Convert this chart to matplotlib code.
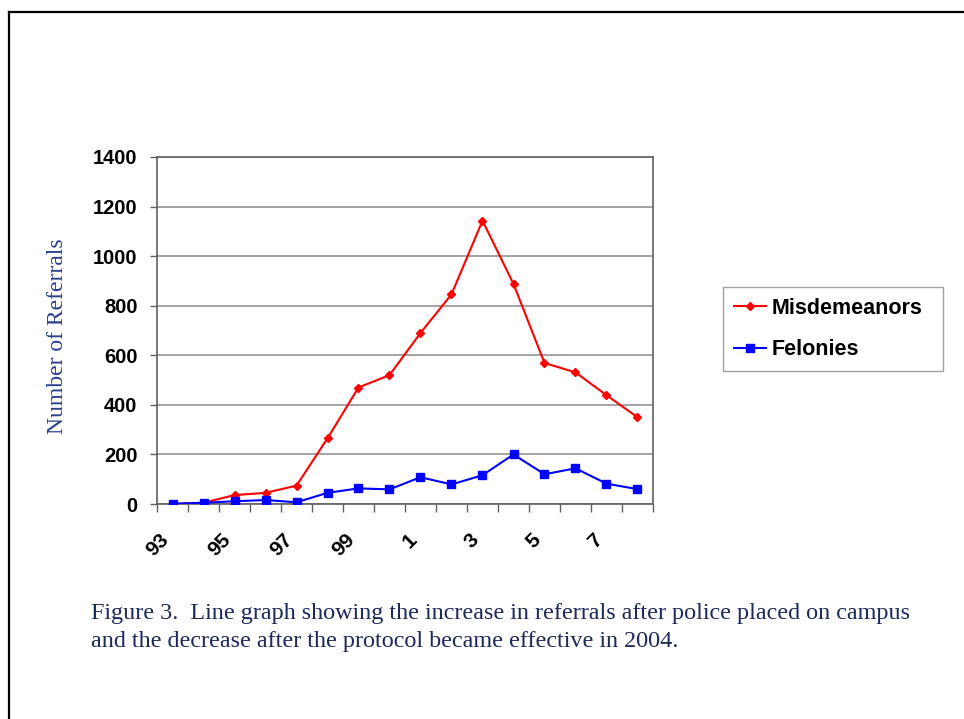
import matplotlib
matplotlib.use("Agg")
import matplotlib.pyplot as plt
import matplotlib.transforms as mtransforms
from matplotlib.lines import Line2D
import numpy as np

# referral counts per school year (93 .. 08)
years = ["93", "94", "95", "96", "97", "98", "99", "0",
         "1", "2", "3", "4", "5", "6", "7", "8"]
misdemeanors = [0, 5, 36, 45, 74, 265, 470, 520,
                690, 846, 1143, 888, 569, 531, 439, 350]
felonies = [1, 5, 11, 16, 7, 45, 63, 59,
            108, 79, 116, 200, 120, 144, 82, 60]
y_ticks = [0, 200, 400, 600, 800, 1000, 1200, 1400]

W, H = 964, 719
fig = plt.figure(figsize=(W / 100, H / 100), dpi=100)
fig.patch.set_facecolor("white")

# plot area in pixel terms
left, right, top, bottom = 157, 653, 157, 504
ax = fig.add_axes([left / W, 1 - bottom / H, (right - left) / W, (bottom - top) / H])

x = np.arange(len(years))
ax.plot(x, misdemeanors, color="#ff0000", lw=1.5, marker="D", ms=4,
        label="Misdemeanors", zorder=3)
ax.plot(x, felonies, color="#0000ff", lw=1.5, marker="s", ms=5.5,
        label="Felonies", zorder=3)

ax.set_xlim(-0.5, len(years) - 0.5)
ax.set_ylim(0, 1400)
ax.set_yticks(y_ticks)
ax.set_yticklabels([str(v) for v in y_ticks], fontsize=14.5, fontweight="bold",
                   family="Liberation Sans")
ax.yaxis.grid(True, color="#8a8a8a", lw=1.1)
ax.set_axisbelow(True)

# category boundaries carry the tick marks, every other category gets a label
ax.set_xticks(np.arange(len(years) + 1) - 0.5, minor=True)
ax.set_xticks(x[::2])
ax.set_xticklabels(years[::2], rotation=45, ha="right", va="top",
                   fontsize=15, fontweight="bold", family="Liberation Sans")
shift = mtransforms.ScaledTranslation(5 / 100, 0, fig.dpi_scale_trans)
for lbl in ax.get_xticklabels():
    lbl.set_transform(lbl.get_transform() + shift)
ax.tick_params(axis="x", which="major", length=0, pad=19)
ax.tick_params(axis="x", which="minor", length=6, color="#606060", width=1)
ax.tick_params(axis="y", length=5, color="#606060", width=1, pad=9)

for s in ax.spines.values():
    s.set_color("#606060")
    s.set_linewidth(1.2)

fig.text(58 / W, 1 - 336 / H, "Number of Referrals", rotation=90,
         ha="center", va="center", fontsize=17, family="Liberation Serif",
         color="#27408b")

leg = ax.legend(loc="upper left", bbox_to_anchor=(723 / W, 1 - 372 / H, 220 / W, 85 / H),
                bbox_transform=fig.transFigure, mode="expand", frameon=True,
                fancybox=False, edgecolor="#8a8a8a", handlelength=1.5,
                handletextpad=0.25, borderpad=0.5, labelspacing=0.95,
                borderaxespad=0,
                prop={"family": "Liberation Sans", "weight": "bold", "size": 15.5})
leg.get_frame().set_linewidth(1.0)

fig.text(91 / W, 1 - 613 / H,
         "Figure 3.  Line graph showing the increase in referrals after police placed on campus",
         ha="left", va="center", fontsize=17.4, family="Liberation Serif", color="#1c2a5c")
fig.text(91 / W, 1 - 641 / H,
         "and the decrease after the protocol became effective in 2004.",
         ha="left", va="center", fontsize=17.4, family="Liberation Serif", color="#1c2a5c")

# page frame: left and top edges only
fig.add_artist(Line2D([9 / W, 9 / W], [0, 1 - 12 / H], transform=fig.transFigure,
                      color="black", lw=1.6))
fig.add_artist(Line2D([9 / W, 1], [1 - 12 / H, 1 - 12 / H], transform=fig.transFigure,
                      color="black", lw=1.6))

fig.savefig("out.png", dpi=100)
